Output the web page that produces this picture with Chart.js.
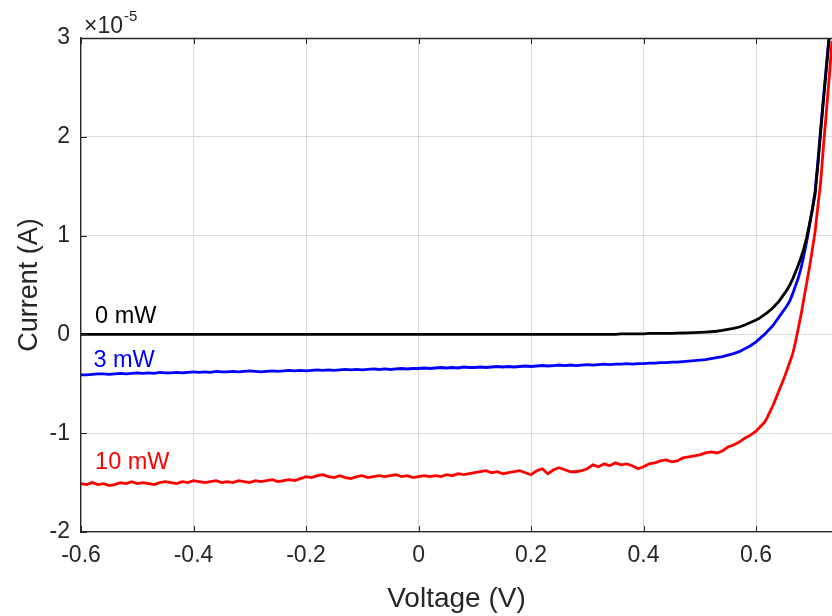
<!DOCTYPE html>
<html>
<head>
<meta charset="utf-8">
<title>I-V curves</title>
<script src="https://cdn.jsdelivr.net/npm/chart.js@4.4.1/dist/chart.umd.min.js"></script>
<style>
  html, body { margin: 0; padding: 0; background: #fff; }
  #wrap { width: 832px; height: 616px; }
</style>
</head>
<body>
<div id="wrap"><canvas id="ivChart" width="832" height="616"></canvas></div>
<script>
// voltage sweep (V)
var voltage = [
  -0.60,-0.59,-0.58,-0.57,-0.56,-0.55,-0.54,-0.53,-0.52,-0.51,
  -0.50,-0.49,-0.48,-0.47,-0.46,-0.45,-0.44,-0.43,-0.42,-0.41,
  -0.40,-0.39,-0.38,-0.37,-0.36,-0.35,-0.34,-0.33,-0.32,-0.31,
  -0.30,-0.29,-0.28,-0.27,-0.26,-0.25,-0.24,-0.23,-0.22,-0.21,
  -0.20,-0.19,-0.18,-0.17,-0.16,-0.15,-0.14,-0.13,-0.12,-0.11,
  -0.10,-0.09,-0.08,-0.07,-0.06,-0.05,-0.04,-0.03,-0.02,-0.01,
  0.00,0.01,0.02,0.03,0.04,0.05,0.06,0.07,0.08,0.09,
  0.10,0.11,0.12,0.13,0.14,0.15,0.16,0.17,0.18,0.19,
  0.20,0.21,0.22,0.23,0.24,0.25,0.26,0.27,0.28,0.29,
  0.30,0.31,0.32,0.33,0.34,0.35,0.36,0.37,0.38,0.39,
  0.40,0.41,0.42,0.43,0.44,0.45,0.46,0.47,0.48,0.49,
  0.50,0.51,0.52,0.53,0.54,0.55,0.56,0.57,0.58,0.59,
  0.60,
  0.605,0.61,0.615,0.62,0.625,0.63,0.635,0.64,0.645,0.65,
  0.655,0.66,0.665,0.67,0.675,0.68,0.685,0.69,0.695,0.70,
  0.705,0.71,0.715,0.72,0.725,0.73,0.735,0.74
];

// current in units of 1e-5 A
var dark0mW = [
  0,0,0,0,0,0,0,0,0,0,
  0,0,0,0,0,0,0,0,0,0,
  0,0,0,0,0,0,0,0,0,0,
  0,0,0,0,0,0,0,0,0,0,
  0,0,0,0,0,0,0,0,0,0,
  0,0,0,0,0,0,0,0,0,0,
  0,0,0,0,0,0,0,0,0,0,
  0,0,0,0,0,0,0,0,0,0,
  0,0,0,0,0,0,0,0,0,0,
  0,0,0,0,0,0,0.005,0.005,0.005,0.005,
  0.005,0.01,0.01,0.01,0.01,0.01,0.012,0.014,0.016,0.018,
  0.02,0.023,0.027,0.032,0.04,0.05,0.06,0.075,0.095,0.12,
  0.145,
  0.16,0.18,0.20,0.22,0.245,0.27,0.30,0.33,0.37,0.41,
  0.45,0.50,0.56,0.63,0.70,0.78,0.87,0.98,1.12,1.26,
  1.42,1.72,2.06,2.38,2.69,3.00,3.30,3.60
];

var light3mW = [
  -0.41,-0.41,-0.405,-0.40,-0.40,-0.405,-0.40,-0.395,-0.40,-0.395,
  -0.39,-0.395,-0.39,-0.395,-0.385,-0.39,-0.39,-0.385,-0.39,-0.385,
  -0.38,-0.385,-0.38,-0.385,-0.375,-0.38,-0.38,-0.375,-0.38,-0.375,
  -0.37,-0.375,-0.38,-0.375,-0.37,-0.375,-0.37,-0.365,-0.37,-0.365,
  -0.37,-0.365,-0.36,-0.365,-0.36,-0.365,-0.36,-0.355,-0.36,-0.355,
  -0.36,-0.355,-0.35,-0.355,-0.35,-0.355,-0.35,-0.345,-0.35,-0.345,
  -0.345,-0.34,-0.345,-0.34,-0.335,-0.34,-0.335,-0.34,-0.33,-0.335,
  -0.335,-0.33,-0.335,-0.33,-0.325,-0.33,-0.325,-0.33,-0.325,-0.32,
  -0.325,-0.32,-0.315,-0.32,-0.315,-0.31,-0.315,-0.31,-0.315,-0.31,
  -0.305,-0.31,-0.305,-0.30,-0.305,-0.30,-0.30,-0.295,-0.30,-0.295,
  -0.295,-0.29,-0.29,-0.285,-0.285,-0.28,-0.28,-0.275,-0.27,-0.265,
  -0.26,-0.255,-0.245,-0.235,-0.225,-0.21,-0.195,-0.175,-0.145,-0.115,
  -0.075,
  -0.05,-0.025,0.00,0.03,0.06,0.09,0.13,0.17,0.21,0.25,
  0.29,0.34,0.41,0.49,0.57,0.67,0.80,0.94,1.10,1.27,
  1.45,1.76,2.09,2.41,2.72,3.03,3.35,3.65
];

var light10mW = [
  -1.51,-1.52,-1.50,-1.52,-1.51,-1.53,-1.52,-1.50,-1.51,-1.49,
  -1.51,-1.50,-1.51,-1.52,-1.50,-1.49,-1.50,-1.51,-1.49,-1.50,
  -1.48,-1.49,-1.50,-1.49,-1.48,-1.50,-1.49,-1.50,-1.48,-1.49,
  -1.50,-1.48,-1.49,-1.48,-1.47,-1.49,-1.48,-1.47,-1.48,-1.46,
  -1.44,-1.45,-1.43,-1.42,-1.44,-1.45,-1.43,-1.45,-1.46,-1.44,
  -1.43,-1.45,-1.44,-1.43,-1.44,-1.43,-1.42,-1.44,-1.43,-1.45,
  -1.44,-1.43,-1.44,-1.43,-1.44,-1.42,-1.43,-1.41,-1.42,-1.41,
  -1.40,-1.39,-1.38,-1.40,-1.39,-1.41,-1.40,-1.39,-1.38,-1.40,
  -1.42,-1.38,-1.36,-1.41,-1.37,-1.35,-1.37,-1.39,-1.39,-1.38,
  -1.36,-1.32,-1.34,-1.31,-1.33,-1.30,-1.32,-1.31,-1.33,-1.36,
  -1.34,-1.31,-1.30,-1.28,-1.27,-1.29,-1.28,-1.25,-1.24,-1.23,
  -1.22,-1.20,-1.19,-1.20,-1.18,-1.14,-1.12,-1.09,-1.05,-1.02,
  -0.98,
  -0.95,-0.92,-0.89,-0.84,-0.78,-0.72,-0.65,-0.58,-0.51,-0.44,
  -0.36,-0.28,-0.20,-0.08,0.06,0.20,0.36,0.52,0.68,0.86,
  1.04,1.30,1.55,1.92,2.25,2.60,2.97,3.33
];

var seriesNames = ['0 mW', '3 mW', '10 mW'];
var seriesColors = ['#000000', '#0000ff', '#ff0000'];
var xTickValues = [-0.6, -0.4, -0.2, 0, 0.2, 0.4, 0.6];
var yTickValues = [-2, -1, 0, 1, 2, 3];

function toPoints(ys) {
  return voltage.map(function (v, i) { return { x: v, y: ys[i] }; });
}

var allSeries = [dark0mW, light3mW, light10mW];
var datasets = allSeries.map(function (ys, k) {
  return {
    label: seriesNames[k],
    data: toPoints(ys),
    borderColor: seriesColors[k],
    borderWidth: 2.8,
    pointRadius: 0,
    tension: 0,
    fill: false
  };
});

var axisColor = '#262626';
var textFont = 'Liberation Sans, Arial, Helvetica, sans-serif';

// where each curve's name sits (data coords, left/baseline)
var labelSpots = [
  { x: -0.575, y: 0.12 },
  { x: -0.578, y: -0.33 },
  { x: -0.575, y: -1.36 }
];

// MATLAB-style frame: top edge, inward ticks, exponent and curve names
var framePlugin = {
  id: 'frame',
  afterDatasetsDraw: function (chart) {
    var ctx = chart.ctx;
    var a = chart.chartArea;
    var xs = chart.scales.x, ys = chart.scales.y;
    var tl = 6;
    ctx.save();
    ctx.strokeStyle = axisColor;
    ctx.lineWidth = 1.3;
    ctx.beginPath();
    ctx.moveTo(a.left, a.top + 0.5);
    ctx.lineTo(a.right, a.top + 0.5);
    ctx.stroke();
    ctx.lineWidth = 1;
    ctx.beginPath();
    xTickValues.forEach(function (v) {
      var px = Math.round(xs.getPixelForValue(v)) + 0.5;
      ctx.moveTo(px, a.bottom); ctx.lineTo(px, a.bottom - tl);
      ctx.moveTo(px, a.top); ctx.lineTo(px, a.top + tl);
    });
    yTickValues.forEach(function (v) {
      var py = Math.round(ys.getPixelForValue(v)) + 0.5;
      ctx.moveTo(a.left, py); ctx.lineTo(a.left + tl, py);
    });
    ctx.stroke();

    // exponent above the y axis
    ctx.fillStyle = axisColor;
    ctx.textBaseline = 'alphabetic';
    ctx.textAlign = 'left';
    ctx.font = '23px ' + textFont;
    ctx.fillText('\u00d710', a.left + 3, a.top - 5);
    var w = ctx.measureText('\u00d710').width;
    ctx.font = '15px ' + textFont;
    ctx.fillText('-5', a.left + 3 + w + 1, a.top - 17);

    // curve names
    ctx.font = '23.5px ' + textFont;
    labelSpots.forEach(function (s, k) {
      ctx.fillStyle = seriesColors[k];
      ctx.fillText(seriesNames[k], xs.getPixelForValue(s.x), ys.getPixelForValue(s.y));
    });
    ctx.restore();
  }
};

var ctx = document.getElementById('ivChart').getContext('2d');
var chart = new Chart(ctx, {
  type: 'line',
  data: { datasets: datasets },
  plugins: [framePlugin],
  options: {
    responsive: false,
    animation: false,
    layout: { padding: { left: 0, top: 38, right: 0, bottom: 0 } },
    plugins: { legend: { display: false }, tooltip: { enabled: false } },
    scales: {
      x: {
        type: 'linear',
        min: -0.6,
        max: 0.735,
        afterBuildTicks: function (s) { s.ticks = xTickValues.map(function (v) { return { value: v }; }); },
        afterFit: function (s) { s.height = 84; },
        grid: { color: '#d9d9d9', lineWidth: 1, drawTicks: false },
        border: { color: axisColor, width: 1.3 },
        ticks: {
          padding: 10,
          color: axisColor,
          font: { family: textFont, size: 23 },
          maxRotation: 0,
          callback: function (v) { return String(Math.round(v * 10) / 10); }
        },
        title: {
          display: true,
          text: 'Voltage (V)',
          color: axisColor,
          font: { family: textFont, size: 28 },
          padding: { top: 0, bottom: 0 }
        }
      },
      y: {
        type: 'linear',
        min: -2,
        max: 3,
        afterBuildTicks: function (s) { s.ticks = yTickValues.map(function (v) { return { value: v }; }); },
        afterFit: function (s) { s.width = 81; },
        grid: { color: '#d9d9d9', lineWidth: 1, drawTicks: false },
        border: { color: axisColor, width: 1.3 },
        ticks: {
          padding: 11,
          color: axisColor,
          font: { family: textFont, size: 23 },
          callback: function (v) { return String(v); }
        },
        title: {
          display: true,
          text: 'Current (A)',
          color: axisColor,
          font: { family: textFont, size: 27 },
          padding: { top: 13, bottom: 0 }
        }
      }
    }
  }
});
</script>
</body>
</html>
